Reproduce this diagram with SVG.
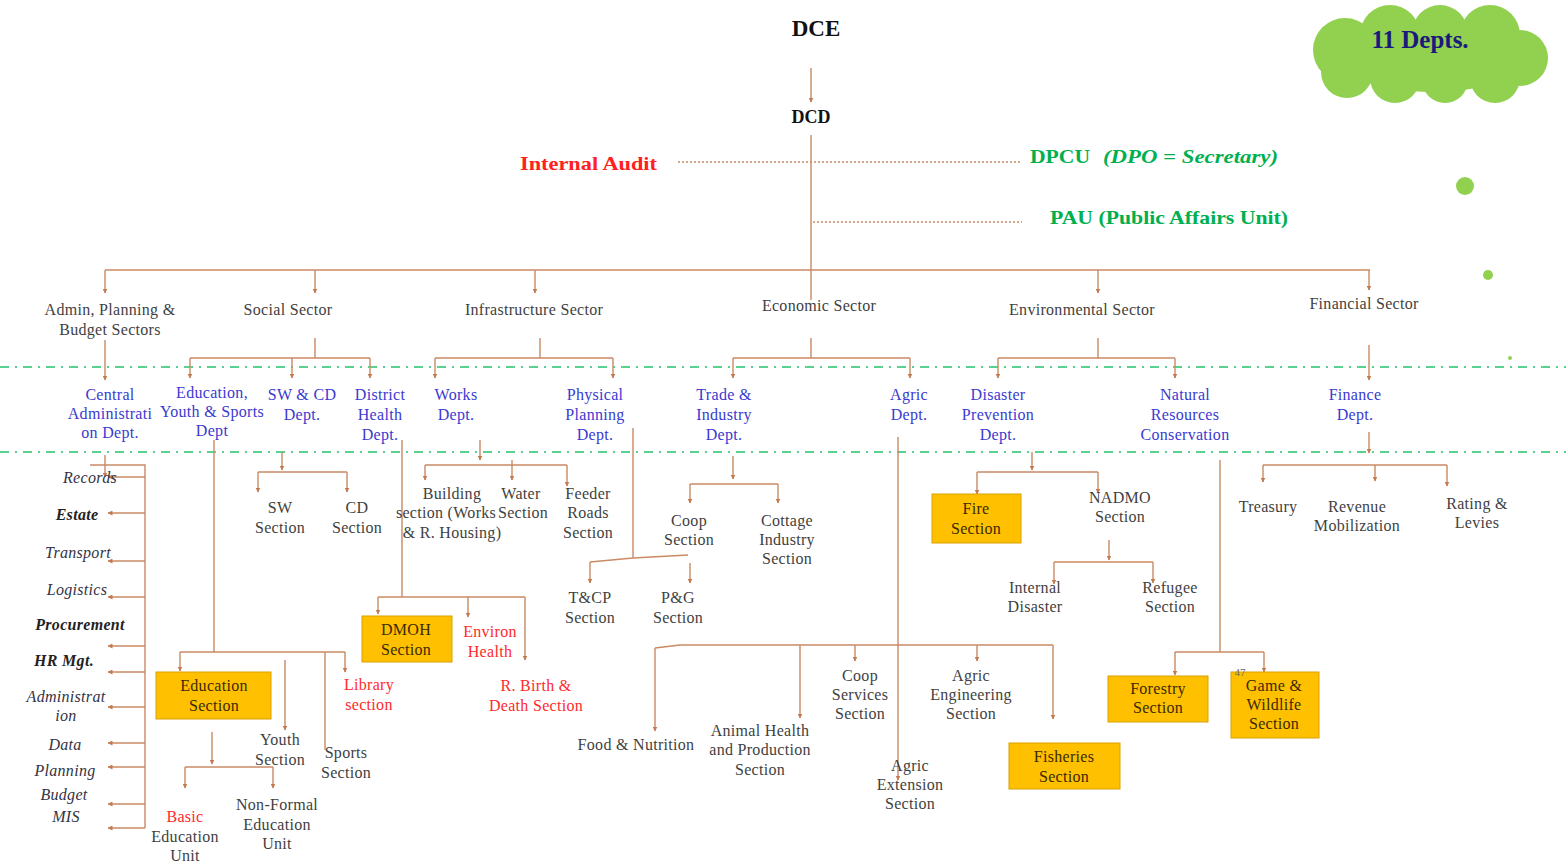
<svg xmlns="http://www.w3.org/2000/svg" width="1566" height="862" viewBox="0 0 1566 862">
<defs>
<marker id="ah" viewBox="0 0 10 10" refX="9" refY="5" markerWidth="5" markerHeight="5" orient="auto" markerUnits="userSpaceOnUse">
<path d="M0,0 L10,5 L0,10 z" fill="#c47a50"/>
</marker>
<style>
.c{fill:none;stroke:#c98a64;stroke-width:1.4}
.a{marker-end:url(#ah)}
.dot{fill:none;stroke:#c98a64;stroke-width:1.4;stroke-dasharray:2 2}
.g{fill:none;stroke:#22c46a;stroke-width:1.6;stroke-dasharray:9 6 2 6}
text{font-family:"Liberation Serif","Times New Roman",serif;font-size:16px;letter-spacing:0.3px;text-anchor:middle}
.s{fill:#3f3f3f}
.d{fill:#3a3ad0}
.r{fill:#ff2a2a}
.it{font-style:italic;fill:#333344}
.bi{font-style:italic;font-weight:bold;fill:#222}
.box{fill:#ffc000;stroke:#d9a000;stroke-width:1}
.bt{fill:#3a2a00}
</style>
</defs>
<rect width="1566" height="862" fill="#ffffff"/>

<!-- cloud -->
<g id="cloud" fill="#92d050">
<circle cx="1345" cy="50" r="32"/>
<circle cx="1390" cy="35" r="30"/>
<circle cx="1440" cy="33" r="28"/>
<circle cx="1490" cy="35" r="30"/>
<circle cx="1520" cy="58" r="28"/>
<circle cx="1495" cy="78" r="25"/>
<circle cx="1445" cy="80" r="23"/>
<circle cx="1395" cy="78" r="25"/>
<circle cx="1347" cy="72" r="26"/>
<ellipse cx="1432" cy="56" rx="95" ry="36"/>
<text x="1420" y="48" style="font-size:25px;font-weight:bold;fill:#1a1a7a;letter-spacing:0">11 Depts.</text>
</g>
<g id="dots" fill="#92d050">
<circle cx="1465" cy="186" r="9"/>
<circle cx="1488" cy="275" r="5"/>
<circle cx="1510" cy="358" r="2"/>
</g>

<!-- green dash-dot bands -->
<g id="bands">
<line class="g" x1="0" y1="367" x2="1566" y2="367"/>
<line class="g" x1="0" y1="452" x2="1566" y2="452"/>
</g>

<g id="connectors">
<path class="c a" d="M811,68 V102"/>
<path class="c" d="M811,135 V300"/>
<path class="dot" d="M678,162 H1020"/>
<path class="dot" d="M813,222 H1022"/>
<path class="c" d="M105,270 H1370"/>
<path class="c a" d="M105,270 V293"/>
<path class="c a" d="M315,270 V293"/>
<path class="c a" d="M535,270 V293"/>
<path class="c a" d="M1098,270 V293"/>
<path class="c a" d="M1369,270 V290"/>
<!-- level 2 -->
<path class="c a" d="M105,340 V380"/>
<path class="c" d="M315,338 V358 M190,358 H370"/>
<path class="c a" d="M190,358 V378"/>
<path class="c a" d="M292,358 V378"/>
<path class="c a" d="M370,358 V378"/>
<path class="c" d="M540,338 V358 M435,358 H613"/>
<path class="c a" d="M435,358 V378"/>
<path class="c a" d="M613,358 V378"/>
<path class="c" d="M811,338 V358 M733,358 H910"/>
<path class="c a" d="M733,358 V378"/>
<path class="c a" d="M910,358 V378"/>
<path class="c" d="M1098,338 V358 M998,358 H1175"/>
<path class="c a" d="M998,358 V378"/>
<path class="c a" d="M1175,358 V378"/>
<path class="c a" d="M1369,345 V380"/>
<!-- admin list -->
<path class="c a" d="M105,455 V477"/>
<path class="c" d="M90,465 H145 V828"/>
<path class="c a" d="M145,477 H108"/>
<path class="c a" d="M145,513 H108"/>
<path class="c a" d="M145,561 H108"/>
<path class="c a" d="M145,597 H108"/>
<path class="c a" d="M145,646 H108"/>
<path class="c a" d="M145,672 H108"/>
<path class="c a" d="M145,707 H108"/>
<path class="c a" d="M145,743 H108"/>
<path class="c a" d="M145,767 H108"/>
<path class="c a" d="M145,804 H108"/>
<path class="c a" d="M145,828 H108"/>
<!-- education -->
<path class="c" d="M214,440 V652 M180,652 H345"/>
<path class="c a" d="M180,652 V671"/>
<path class="c a" d="M345,652 V672"/>
<path class="c a" d="M285,660 V730"/>
<path class="c" d="M325,652 V750"/>
<path class="c a" d="M212,732 V764"/>
<path class="c" d="M185,767 H273"/>
<path class="c a" d="M185,767 V788"/>
<path class="c a" d="M273,767 V788"/>
<!-- SW & CD -->
<path class="c a" d="M282,452 V470"/>
<path class="c" d="M258,472 H347"/>
<path class="c a" d="M258,472 V492"/>
<path class="c a" d="M347,472 V492"/>
<!-- District Health -->
<path class="c" d="M402,440 V597 M378,597 H525"/>
<path class="c a" d="M378,597 V614"/>
<path class="c a" d="M468,597 V617"/>
<path class="c a" d="M525,597 V660"/>
<!-- Works -->
<path class="c a" d="M480,440 V460"/>
<path class="c" d="M425,465 H567"/>
<path class="c a" d="M425,465 V480"/>
<path class="c a" d="M512,460 V480"/>
<path class="c a" d="M567,465 V486"/>
<!-- Physical planning -->
<path class="c" d="M633,428 V558 M590,562 L633,558 L688,555"/>
<path class="c a" d="M590,562 V583"/>
<path class="c a" d="M690,563 V583"/>
<!-- Trade & industry -->
<path class="c a" d="M733,456 V479"/>
<path class="c" d="M690,484 H778"/>
<path class="c a" d="M690,484 V503"/>
<path class="c a" d="M778,484 V503"/>
<!-- Agric -->
<path class="c a" d="M898,437 V780"/>
<path class="c" d="M655,648 L680,645 H1053"/>
<path class="c a" d="M655,648 V731"/>
<path class="c a" d="M800,645 V718"/>
<path class="c a" d="M855,645 V661"/>
<path class="c a" d="M977,645 V661"/>
<path class="c a" d="M1053,645 V719"/>
<!-- Disaster -->
<path class="c a" d="M1032,452 V470"/>
<path class="c" d="M977,472 H1098"/>
<path class="c a" d="M977,472 V494"/>
<path class="c a" d="M1098,472 V493"/>
<path class="c a" d="M1109,540 V560"/>
<path class="c" d="M1054,562 H1153"/>
<path class="c a" d="M1054,562 V584"/>
<path class="c a" d="M1153,562 V583"/>
<!-- Natural resources -->
<path class="c" d="M1220,460 V652 M1175,652 H1264"/>
<path class="c a" d="M1175,652 V675"/>
<path class="c a" d="M1264,652 V672"/>
<!-- Finance -->
<path class="c a" d="M1369,432 V453"/>
<path class="c" d="M1263,465 H1447"/>
<path class="c a" d="M1263,465 V482"/>
<path class="c a" d="M1375,465 V481"/>
<path class="c a" d="M1447,465 V486"/>
</g>

<!-- top -->
<g id="dce"><text x="816" y="36" style="font-size:23px;font-weight:bold;fill:#111;letter-spacing:0">DCE</text></g>
<g id="dcd"><text x="811" y="123" style="font-size:18px;font-weight:bold;fill:#111;letter-spacing:0">DCD</text></g>
<g id="audit"><text x="520" y="170" textLength="137" lengthAdjust="spacingAndGlyphs" style="font-size:19px;font-weight:bold;fill:#ff2020;text-anchor:start;letter-spacing:0">Internal Audit</text></g>
<g id="dpcu"><text y="163" style="font-size:19px;font-weight:bold;fill:#00b050;text-anchor:start;letter-spacing:0"><tspan x="1030" textLength="60" lengthAdjust="spacingAndGlyphs">DPCU</tspan><tspan x="1103" font-style="italic" textLength="175" lengthAdjust="spacingAndGlyphs">(DPO = Secretary)</tspan></text></g>
<g id="pau"><text x="1050" y="224" textLength="238" lengthAdjust="spacingAndGlyphs" style="font-size:19px;font-weight:bold;fill:#00b050;text-anchor:start;letter-spacing:0">PAU (Public Affairs Unit)</text></g>

<!-- sectors -->
<g id="sec-admin"><text class="s" x="110" y="315">Admin, Planning &amp;<tspan x="110" dy="20">Budget Sectors</tspan></text></g>
<g id="sec-social"><text class="s" x="288" y="315">Social Sector</text></g>
<g id="sec-infra"><text class="s" x="534" y="315">Infrastructure  Sector</text></g>
<g id="sec-eco"><text class="s" x="819" y="311">Economic Sector</text></g>
<g id="sec-env"><text class="s" x="1082" y="315">Environmental Sector</text></g>
<g id="sec-fin"><text class="s" x="1364" y="309">Financial Sector</text></g>

<!-- departments -->
<g id="d-central"><text class="d" x="110" y="400">Central<tspan x="110" dy="19">Administrati</tspan><tspan x="110" dy="19">on Dept.</tspan></text></g>
<g id="d-edu"><text class="d" x="212" y="398">Education,<tspan x="212" dy="19">Youth &amp; Sports</tspan><tspan x="212" dy="19">Dept</tspan></text></g>
<g id="d-swcd"><text class="d" x="302" y="400">SW &amp; CD<tspan x="302" dy="20">Dept.</tspan></text></g>
<g id="d-health"><text class="d" x="380" y="400">District<tspan x="380" dy="20">Health</tspan><tspan x="380" dy="20">Dept.</tspan></text></g>
<g id="d-works"><text class="d" x="456" y="400">Works<tspan x="456" dy="20">Dept.</tspan></text></g>
<g id="d-phys"><text class="d" x="595" y="400">Physical<tspan x="595" dy="20">Planning</tspan><tspan x="595" dy="20">Dept.</tspan></text></g>
<g id="d-trade"><text class="d" x="724" y="400">Trade &amp;<tspan x="724" dy="20">Industry</tspan><tspan x="724" dy="20">Dept.</tspan></text></g>
<g id="d-agric"><text class="d" x="909" y="400">Agric<tspan x="909" dy="20">Dept.</tspan></text></g>
<g id="d-disaster"><text class="d" x="998" y="400">Disaster<tspan x="998" dy="20">Prevention</tspan><tspan x="998" dy="20">Dept.</tspan></text></g>
<g id="d-natural"><text class="d" x="1185" y="400">Natural<tspan x="1185" dy="20">Resources</tspan><tspan x="1185" dy="20">Conservation</tspan></text></g>
<g id="d-finance"><text class="d" x="1355" y="400">Finance<tspan x="1355" dy="20">Dept.</tspan></text></g>

<!-- admin list -->
<g id="admin-list">
<text class="it" x="90" y="483">Records</text>
<text class="bi" x="77" y="520">Estate</text>
<text class="it" x="78" y="558">Transport</text>
<text class="it" x="77" y="595">Logistics</text>
<text class="bi" x="80" y="630">Procurement</text>
<text class="bi" x="64" y="666">HR Mgt.</text>
<text class="it" x="66" y="702">Administrat<tspan x="66" dy="19">ion</tspan></text>
<text class="it" x="65" y="750">Data</text>
<text class="it" x="65" y="776">Planning</text>
<text class="it" x="64" y="800">Budget</text>
<text class="it" x="66" y="822">MIS</text>
</g>

<!-- education sub -->
<g id="n-edusec"><rect class="box" x="156" y="672" width="115" height="47"/><text class="bt" x="214" y="691">Education<tspan x="214" dy="20">Section</tspan></text></g>
<g id="n-youth"><text class="s" x="280" y="745">Youth<tspan x="280" dy="20">Section</tspan></text></g>
<g id="n-sports"><text class="s" x="346" y="758">Sports<tspan x="346" dy="20">Section</tspan></text></g>
<g id="n-library"><text class="r" x="369" y="690">Library<tspan x="369" dy="20">section</tspan></text></g>
<g id="n-basic"><text class="s" x="185" y="822"><tspan class="r">Basic</tspan><tspan x="185" dy="20">Education</tspan><tspan x="185" dy="19">Unit</tspan></text></g>
<g id="n-nonformal"><text class="s" x="277" y="810">Non-Formal<tspan x="277" dy="20">Education</tspan><tspan x="277" dy="19">Unit</tspan></text></g>

<!-- SW CD -->
<g id="n-sw"><text class="s" x="280" y="513">SW<tspan x="280" dy="20">Section</tspan></text></g>
<g id="n-cd"><text class="s" x="357" y="513">CD<tspan x="357" dy="20">Section</tspan></text></g>

<!-- health -->
<g id="n-dmoh"><rect class="box" x="362" y="616" width="90" height="46"/><text class="bt" x="406" y="635">DMOH<tspan x="406" dy="20">Section</tspan></text></g>
<g id="n-environ"><text class="r" x="490" y="637">Environ<tspan x="490" dy="20">Health</tspan></text></g>
<g id="n-birth"><text class="r" x="536" y="691">R. Birth &amp;<tspan x="536" dy="20">Death Section</tspan></text></g>

<!-- works -->
<g id="n-building"><text class="s" x="452" y="499">Building<tspan x="446" dy="19">section (Works</tspan><tspan x="452" dy="20">&amp; R. Housing)</tspan></text></g>
<g id="n-water"><text class="s" x="521" y="499">Water<tspan x="523" dy="19">Section</tspan></text></g>
<g id="n-feeder"><text class="s" x="588" y="499">Feeder<tspan x="588" dy="19">Roads</tspan><tspan x="588" dy="20">Section</tspan></text></g>

<!-- physical planning -->
<g id="n-tcp"><text class="s" x="590" y="603">T&amp;CP<tspan x="590" dy="20">Section</tspan></text></g>
<g id="n-pg"><text class="s" x="678" y="603">P&amp;G<tspan x="678" dy="20">Section</tspan></text></g>

<!-- trade -->
<g id="n-coop"><text class="s" x="689" y="526">Coop<tspan x="689" dy="19">Section</tspan></text></g>
<g id="n-cottage"><text class="s" x="787" y="526">Cottage<tspan x="787" dy="19">Industry</tspan><tspan x="787" dy="19">Section</tspan></text></g>

<!-- agric -->
<g id="n-food"><text class="s" x="636" y="750">Food &amp; Nutrition</text></g>
<g id="n-animal"><text class="s" x="760" y="736">Animal Health<tspan x="760" dy="19">and Production</tspan><tspan x="760" dy="20">Section</tspan></text></g>
<g id="n-coopserv"><text class="s" x="860" y="681">Coop<tspan x="860" dy="19">Services</tspan><tspan x="860" dy="19">Section</tspan></text></g>
<g id="n-agreng"><text class="s" x="971" y="681">Agric<tspan x="971" dy="19">Engineering</tspan><tspan x="971" dy="19">Section</tspan></text></g>
<g id="n-agrext"><text class="s" x="910" y="771">Agric<tspan x="910" dy="19">Extension</tspan><tspan x="910" dy="19">Section</tspan></text></g>
<g id="n-fish"><rect class="box" x="1009" y="743" width="111" height="46"/><text class="bt" x="1064" y="762">Fisheries<tspan x="1064" dy="20">Section</tspan></text></g>

<!-- disaster -->
<g id="n-fire"><rect class="box" x="932" y="494" width="89" height="49"/><text class="bt" x="976" y="514">Fire<tspan x="976" dy="20">Section</tspan></text></g>
<g id="n-nadmo"><text class="s" x="1120" y="503">NADMO<tspan x="1120" dy="19">Section</tspan></text></g>
<g id="n-internal"><text class="s" x="1035" y="593">Internal<tspan x="1035" dy="19">Disaster</tspan></text></g>
<g id="n-refugee"><text class="s" x="1170" y="593">Refugee<tspan x="1170" dy="19">Section</tspan></text></g>

<!-- natural -->
<g id="n-forestry"><rect class="box" x="1108" y="676" width="100" height="46"/><text class="bt" x="1158" y="694">Forestry<tspan x="1158" dy="19">Section</tspan></text></g>
<g id="n-game"><rect class="box" x="1231" y="672" width="88" height="66"/><text class="bt" x="1274" y="691">Game &amp;<tspan x="1274" dy="19">Wildlife</tspan><tspan x="1274" dy="19">Section</tspan></text></g>
<g id="n-47"><text x="1240" y="676" style="font-size:11px;fill:#666;letter-spacing:0">47</text></g>

<!-- finance -->
<g id="n-treasury"><text class="s" x="1268" y="512">Treasury</text></g>
<g id="n-revenue"><text class="s" x="1357" y="512">Revenue<tspan x="1357" dy="19">Mobilization</tspan></text></g>
<g id="n-rating"><text class="s" x="1477" y="509">Rating &amp;<tspan x="1477" dy="19">Levies</tspan></text></g>
</svg>
